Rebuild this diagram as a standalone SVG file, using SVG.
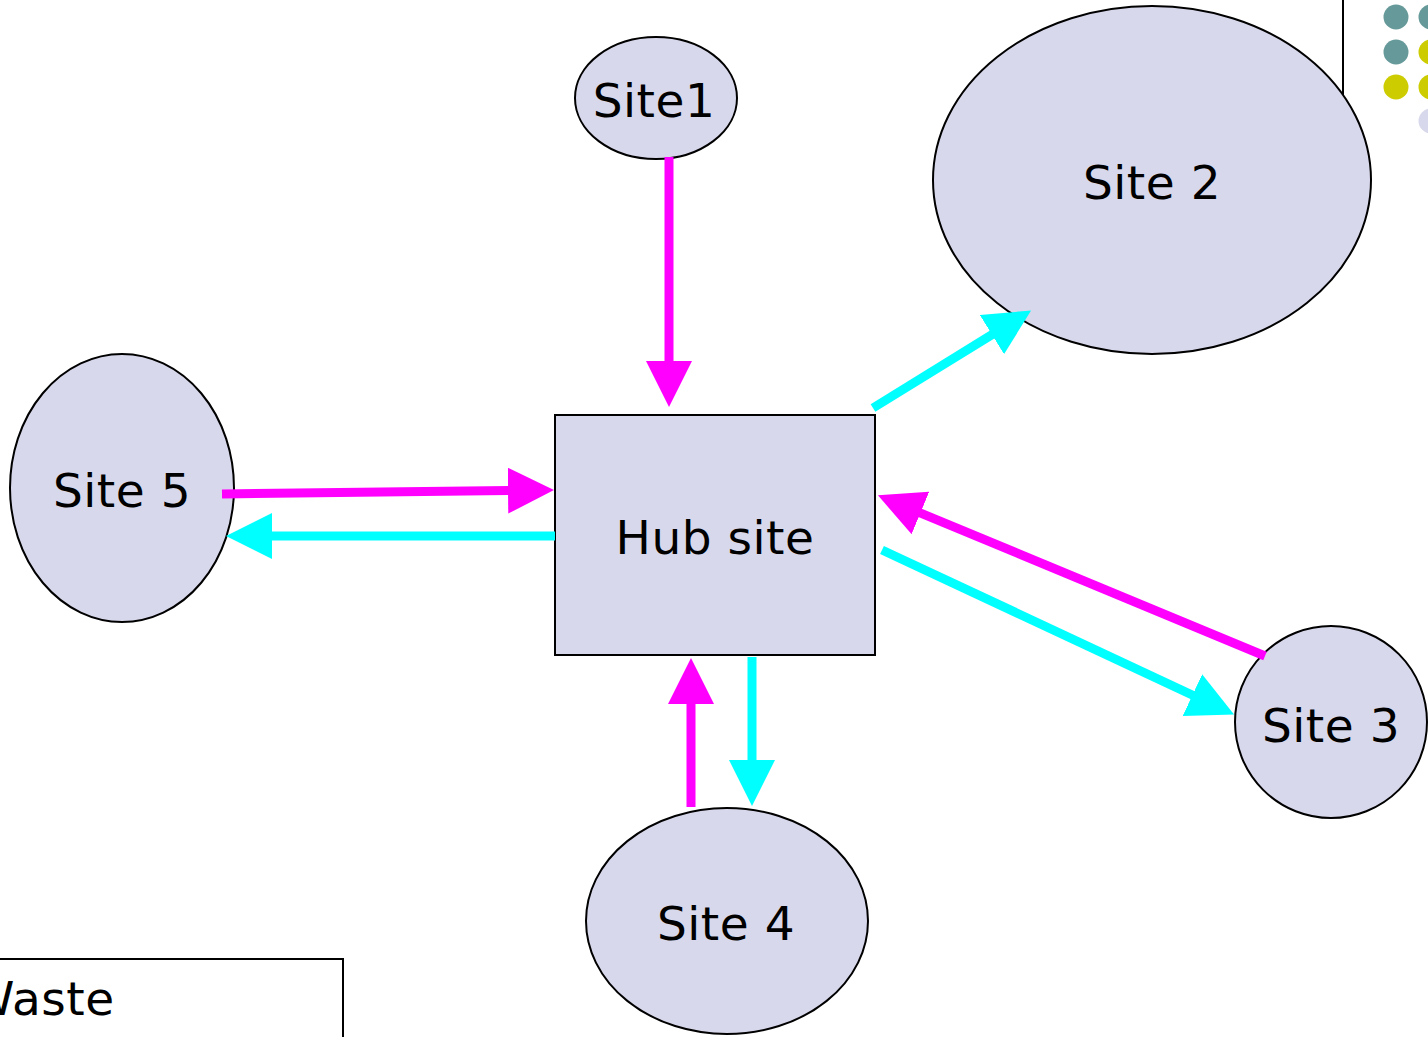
<svg xmlns="http://www.w3.org/2000/svg" width="1428" height="1037" viewBox="0 0 1428 1037">
<style>
.node{fill:#D8D8EC;stroke:#000;stroke-width:2}
.lbl{font-family:"DejaVu Sans","Verdana",sans-serif;font-size:47px;letter-spacing:0.5px;fill:#000;text-anchor:middle}
.mag{stroke:#FF00FF;stroke-width:9;fill:none}
.cya{stroke:#00FFFF;stroke-width:9;fill:none}
</style>
<defs>
<marker id="am" viewBox="0 0 46 46" refX="1" refY="23" markerWidth="46" markerHeight="46" markerUnits="userSpaceOnUse" orient="auto"><path d="M0,0 L46,23 L0,46 z" fill="#FF00FF"/></marker>
<marker id="ac" viewBox="0 0 46 46" refX="1" refY="23" markerWidth="46" markerHeight="46" markerUnits="userSpaceOnUse" orient="auto"><path d="M0,0 L46,23 L0,46 z" fill="#00FFFF"/></marker>
</defs>
<rect width="1428" height="1037" fill="#fff"/>
<g id="decor">
<line x1="1343" y1="0" x2="1343" y2="95" stroke="#000" stroke-width="2"/>
<circle cx="1396" cy="17" r="12.5" fill="#669999"/>
<circle cx="1396" cy="52" r="12.5" fill="#669999"/>
<circle cx="1396" cy="87" r="12.5" fill="#CCCC00"/>
<circle cx="1431" cy="17" r="12.5" fill="#669999"/>
<circle cx="1431" cy="52" r="12.5" fill="#CCCC00"/>
<circle cx="1431" cy="87" r="12.5" fill="#CCCC00"/>
<circle cx="1431" cy="121" r="12.5" fill="#D8D8EC"/>
</g>
<g id="site1"><ellipse class="node" cx="656" cy="98" rx="81" ry="61"/><text class="lbl" x="654" y="117">Site1</text></g>
<g id="site2"><ellipse class="node" cx="1152" cy="180" rx="219" ry="174"/><text class="lbl" x="1152" y="199">Site 2</text></g>
<g id="site5"><ellipse class="node" cx="122" cy="488" rx="112" ry="134"/><text class="lbl" x="122" y="507">Site 5</text></g>
<g id="hub"><rect class="node" x="555" y="415" width="320" height="240"/><text class="lbl" x="715" y="554">Hub site</text></g>
<g id="site3"><ellipse class="node" cx="1331" cy="722" rx="96" ry="96"/><text class="lbl" x="1331" y="742">Site 3</text></g>
<g id="site4"><ellipse class="node" cx="727" cy="921" rx="141" ry="113"/><text class="lbl" x="726" y="940">Site 4</text></g>
<g id="waste"><rect x="-10" y="959" width="353" height="100" fill="#fff" stroke="#000" stroke-width="2"/><text x="-32" y="1015" font-family="DejaVu Sans, Verdana, sans-serif" font-size="47" letter-spacing="0.5" fill="#000">Waste</text></g>
<g id="connectors">
<line class="mag" x1="669" y1="157" x2="669" y2="362" marker-end="url(#am)"/>
<line class="cya" x1="873" y1="408" x2="992.8" y2="334.1" marker-end="url(#ac)"/>
<line class="mag" x1="222" y1="494" x2="509" y2="490.6" marker-end="url(#am)"/>
<line class="cya" x1="555" y1="536" x2="271" y2="536" marker-end="url(#ac)"/>
<line class="mag" x1="1265" y1="656" x2="919.5" y2="512.6" marker-end="url(#am)"/>
<line class="cya" x1="882" y1="550" x2="1193.3" y2="695.5" marker-end="url(#ac)"/>
<line class="mag" x1="691" y1="807" x2="691" y2="703" marker-end="url(#am)"/>
<line class="cya" x1="752" y1="657" x2="752" y2="761" marker-end="url(#ac)"/>
</g>
</svg>
